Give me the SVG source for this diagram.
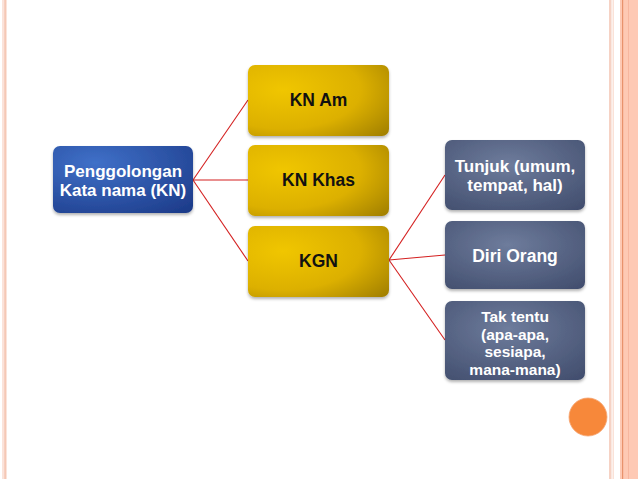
<svg xmlns="http://www.w3.org/2000/svg" width="638" height="479" viewBox="0 0 638 479">
<defs>
<radialGradient id="gBlue" cx="0.3" cy="0.25" r="1">
<stop offset="0" stop-color="#3f70c8"/>
<stop offset="1" stop-color="#1c3a88"/>
</radialGradient>
<radialGradient id="gGold" cx="0.25" cy="0.35" r="1.1">
<stop offset="0" stop-color="#f0c604"/>
<stop offset="0.5" stop-color="#dcb000"/>
<stop offset="1" stop-color="#8f7000"/>
</radialGradient>
<radialGradient id="gGrey" cx="0.45" cy="0.35" r="0.9">
<stop offset="0" stop-color="#6e7c9c"/>
<stop offset="1" stop-color="#3d4969"/>
</radialGradient>
<filter id="sh" x="-10%" y="-10%" width="120%" height="130%">
<feDropShadow dx="0" dy="2" stdDeviation="1.5" flood-color="#000" flood-opacity="0.3"/>
</filter>
<style>
.t{font-family:"Liberation Sans",Arial,sans-serif;font-weight:bold;font-size:17.5px;text-anchor:middle}
.s{font-size:17px}
.x{font-size:15.5px}
.w{fill:#ffffff}
.k{fill:#111111}
.c{stroke:#d42020;stroke-width:1.1;fill:none}
</style>
</defs>
<rect width="638" height="479" fill="#ffffff"/>
<g id="border">
<rect x="2" y="0" width="5" height="479" fill="#fbe3da"/>
<rect x="4.5" y="0" width="1.2" height="479" fill="#f2bca6"/>
<rect x="609" y="0" width="2.5" height="479" fill="#f6d2c4"/>
<rect x="612.5" y="0" width="1.5" height="479" fill="#fae2d8"/>
<rect x="620" y="0" width="18" height="479" fill="#fec9b4"/>
<rect x="622" y="0" width="1.2" height="479" fill="#e8926c"/>
<rect x="628" y="0" width="0.8" height="479" fill="#f5b29a"/>
</g>
<g id="connectors">
<line class="c" x1="193" y1="180" x2="248" y2="100"/>
<line class="c" x1="193" y1="180" x2="248" y2="180"/>
<line class="c" x1="193" y1="180" x2="248" y2="261"/>
<line class="c" x1="389" y1="260" x2="445" y2="175"/>
<line class="c" x1="389" y1="260" x2="445" y2="255"/>
<line class="c" x1="389" y1="260" x2="445" y2="340"/>
</g>
<g id="n-root">
<rect x="53" y="146" width="140" height="67" rx="7" fill="url(#gBlue)" filter="url(#sh)"/>
<text class="t s w" x="123" y="176.5">Penggolongan</text>
<text class="t s w" x="123" y="195.5">Kata nama (KN)</text>
</g>
<g id="n-am">
<rect x="248" y="65" width="141" height="71" rx="7" fill="url(#gGold)" filter="url(#sh)"/>
<text class="t k" x="318.5" y="106">KN Am</text>
</g>
<g id="n-khas">
<rect x="248" y="145" width="141" height="71" rx="7" fill="url(#gGold)" filter="url(#sh)"/>
<text class="t k" x="318.5" y="186">KN Khas</text>
</g>
<g id="n-kgn">
<rect x="248" y="226" width="141" height="71" rx="7" fill="url(#gGold)" filter="url(#sh)"/>
<text class="t k" x="318.5" y="267">KGN</text>
</g>
<g id="n-tunjuk">
<rect x="445" y="140" width="140" height="70" rx="7" fill="url(#gGrey)" filter="url(#sh)"/>
<text class="t s w" x="515" y="171.5">Tunjuk (umum,</text>
<text class="t s w" x="515" y="190.5">tempat, hal)</text>
</g>
<g id="n-diri">
<rect x="445" y="221" width="140" height="68" rx="7" fill="url(#gGrey)" filter="url(#sh)"/>
<text class="t w" x="515" y="262">Diri Orang</text>
</g>
<g id="n-tak">
<rect x="445" y="301" width="140" height="79" rx="7" fill="url(#gGrey)" filter="url(#sh)"/>
<text class="t x w" x="515" y="322">Tak tentu</text>
<text class="t x w" x="515" y="339.5">(apa-apa,</text>
<text class="t x w" x="515" y="357">sesiapa,</text>
<text class="t x w" x="515" y="374.5">mana-mana)</text>
</g>
<circle id="dot" cx="588" cy="417" r="19" fill="#f7883a" stroke="#f5a572" stroke-width="0.8"/>
</svg>
